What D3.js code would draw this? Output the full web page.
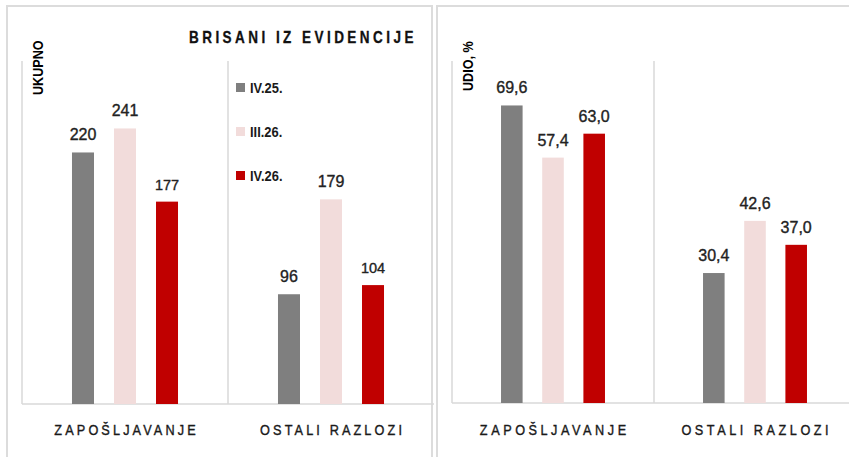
<!DOCTYPE html>
<html>
<head>
<meta charset="utf-8">
<script src="https://cdn.jsdelivr.net/npm/d3@7"></script>
<style>
  html, body { margin: 0; padding: 0; background: #fff; }
  svg { display: block; }
</style>
</head>
<body>
<svg id="chart" width="849" height="457"></svg>
<script>
const categories = ["ZAPOŠLJAVANJE", "OSTALI  RAZLOZI"];
const series = ["IV.25.", "III.26.", "IV.26."];
const colors = ["#7f7f7f", "#f2dcdb", "#c00000"];
const totalValues = [
  [220, 241, 177],
  [96, 179, 104]
];
const shareValues = [
  [69.6, 57.4, 63.0],
  [30.4, 42.6, 37.0]
];
const title = "BRISANI IZ EVIDENCIJE";
const leftAxisTitle = "UKUPNO";
const rightAxisTitle = "UDIO, %";

const svg = d3.select("#chart");
const gridColor = "#d9d9d9";
const textColor = "#1f1f1f";
const sans = "'Liberation Sans', Arial, sans-serif";
const NARROW = 0.82; // horizontal compression to mimic a condensed face

function narrowText(parent, x, y, str, o) {
  const t = parent.append("text")
    .attr("transform", `translate(${x},${y})${o.rotate ? " rotate(" + o.rotate + ")" : ""} scale(${o.sx || NARROW},1)`)
    .attr("font-family", sans)
    .attr("font-size", o.size)
    .attr("font-weight", o.weight || "normal")
    .attr("text-anchor", o.anchor || "start")
    .attr("fill", o.fill || textColor)
    .text(str);
  if (o.spacing) t.attr("letter-spacing", o.spacing);
  if (o.anchor === "middle" && o.spacing) t.attr("x", o.spacing / 2);
  if (o.stroke) t.attr("stroke", o.fill || textColor).attr("stroke-width", o.stroke);
  return t;
}

// panel frames
svg.append("rect").attr("x", 7).attr("y", 6).attr("width", 425).attr("height", 470)
  .attr("fill", "none").attr("stroke", "#dcdcdc").attr("stroke-width", 2);
svg.append("rect").attr("x", 437).attr("y", 6).attr("width", 440).attr("height", 470)
  .attr("fill", "none").attr("stroke", "#dcdcdc").attr("stroke-width", 2);

function panel(cfg) {
  const g = svg.append("g");
  const x0 = d3.scaleBand().domain(categories).range([cfg.x0, cfg.x1]).padding(0);
  const x1 = d3.scaleBand().domain(series).range([0, x0.bandwidth()])
    .paddingInner(20 / 42).paddingOuter(1.19);
  const y = d3.scaleLinear().domain(cfg.domain).range([cfg.bottom, cfg.top]);

  const seps = [cfg.x0, x0(categories[1])];
  g.selectAll("line.sep").data(seps).join("line")
    .attr("x1", d => d).attr("x2", d => d)
    .attr("y1", cfg.top).attr("y2", cfg.bottom)
    .attr("stroke", gridColor).attr("stroke-width", 1.5);

  g.append("line").attr("x1", cfg.x0).attr("x2", cfg.x1)
    .attr("y1", cfg.bottom).attr("y2", cfg.bottom)
    .attr("stroke", gridColor).attr("stroke-width", 1.5);

  categories.forEach((cat, ci) => {
    const gg = g.append("g").attr("transform", `translate(${x0(cat)},0)`);
    const vals = cfg.values[ci];
    gg.selectAll("rect").data(vals).join("rect")
      .attr("x", (d, i) => x1(series[i]))
      .attr("width", x1.bandwidth())
      .attr("y", d => y(d))
      .attr("height", d => cfg.bottom - y(d))
      .attr("fill", (d, i) => colors[i]);
    gg.selectAll("text").data(vals).join("text")
      .attr("x", (d, i) => x1(series[i]) + x1.bandwidth() / 2)
      .attr("y", d => y(d) - 12)
      .attr("text-anchor", "middle")
      .attr("font-family", sans)
      .attr("font-size", (d, i) => cfg.labelSizes[i])
      .attr("fill", "#222")
      .attr("stroke", "#222")
      .attr("stroke-width", 0.35)
      .text(d => cfg.fmt(d));
    narrowText(g, x0(cat) + x0.bandwidth() / 2, 435, cat,
      { size: 15.5, anchor: "middle", spacing: cfg.catSpacing, fill: "#1a1a1a", stroke: 0.4 });
  });

  narrowText(g, cfg.titleX, cfg.titleY, cfg.axisTitle,
    { size: 14.5, weight: "bold", rotate: -90, sx: 0.87, fill: "#000" });
}

const fmtInt = d3.format("d");
const fmtDec = d => d3.format(".1f")(d).replace(".", ",");

panel({
  x0: 22, x1: 434, top: 61, bottom: 404, domain: [0, 300],
  values: totalValues, fmt: fmtInt, labelSizes: [16, 16, 14.5],
  catSpacing: 3.8, axisTitle: leftAxisTitle, titleX: 43, titleY: 95
});
panel({
  x0: 452, x1: 856, top: 61, bottom: 403, domain: [0, 80],
  values: shareValues, fmt: fmtDec, labelSizes: [16, 16, 16],
  catSpacing: 4.3, axisTitle: rightAxisTitle, titleX: 473, titleY: 91
});

narrowText(svg, 189, 43, title,
  { size: 16.5, weight: "bold", spacing: 4.2, fill: "#111", stroke: 0.3 });

const legend = svg.append("g");
series.forEach((s, i) => {
  const ly = 83 + i * 44;
  legend.append("rect").attr("x", 236).attr("y", ly).attr("width", 9).attr("height", 9)
    .attr("fill", colors[i]);
  narrowText(legend, 250, ly + 10, s,
    { size: 15, weight: "bold", sx: 0.86, fill: "#1a1a1a" });
});
</script>
</body>
</html>
